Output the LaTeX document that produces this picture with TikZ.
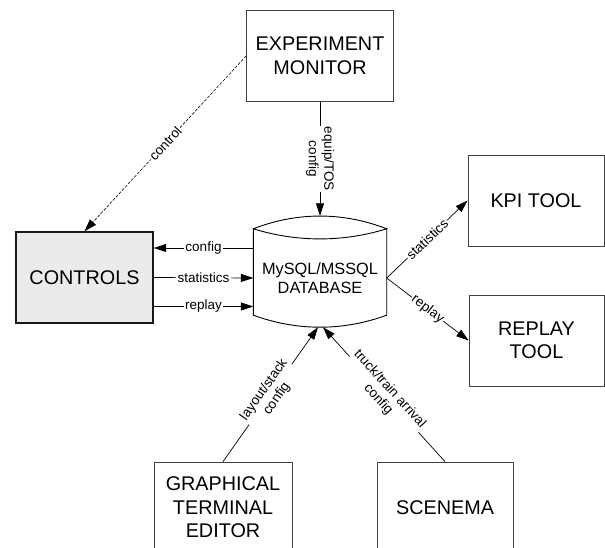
\documentclass[tikz,border=0pt]{standalone}
\usepackage{fontspec}
\setmainfont{Liberation Sans}
\usetikzlibrary{arrows.meta,
                calc,
                positioning}

\begin{document}
\begin{tikzpicture}[
        x=1pt, y=-1pt,
        box/.style={rectangle, minimum width=136pt, minimum height=91pt, text centered, align=center, draw=black!75, line width=0.8pt, font=\fontsize{19.8}{23.5}\selectfont},
        controlbox/.style={box, minimum width=137pt, draw=black!90, line width=1.4pt, fill=black!8},
        dbbody/.style={rectangle, minimum width=133pt, minimum height=98pt, text centered, align=center, font=\fontsize{16.3}{19}\selectfont},
        dbline/.style={draw=black, line width=0.9pt},
        link/.style={draw=black, line width=0.7pt, -{Triangle[length=12.5pt, width=8pt]}},
        tag/.style={fill=white, inner sep=1.2pt, align=center, font=\fontsize{13.5}{15.5}\selectfont}
        ]

        \useasboundingbox (0,0) rectangle (605,548);

        \node (monitor) [box, minimum width=147pt] at (320,56)    {EXPERIMENT\\MONITOR};
        \node (ctrl)    [controlbox]               at (84.5,277.5) {CONTROLS};
        \node (db)      [dbbody]                   at (320,278)   {MySQL/MSSQL\\DATABASE};
        \node (kpi)     [box]                      at (536,200.5) {KPI TOOL};
        \node (replay)  [box, minimum width=135pt] at (536.5,340.5) {REPLAY\\TOOL};
        \node (gte)     [box, minimum width=138pt] at (223,507.5) {GRAPHICAL\\TERMINAL\\EDITOR};
        \node (scenema) [box]                      at (445,507.5) {SCENEMA};

        % database drum
        \draw [dbline] (db.north west) .. controls +(44,-17) and +(-44,-17) .. (db.north east)
                       .. controls +(-44,13.5) and +(44,13.5) .. (db.north west)
                       -- ([yshift=12pt]db.south west)
                       .. controls +(44,16) and +(-44,16) .. ([yshift=12pt]db.south east)
                       -- (db.north east);
        \coordinate (dbtop) at ([yshift=13pt]db.north);

        \draw [link] (monitor.south) -- node[tag, rotate=-90] {equip/TOS\\config} (dbtop);
        \draw [link, line width=0.6pt, dash pattern=on 3pt off 1.5pt] (monitor.west) -- node[tag, sloped] {control} (ctrl.north);

        \draw [link] ([yshift=30pt]db.west) -- node[tag] {config} ([yshift=30pt]db.west -| ctrl.east);
        \draw [link] (ctrl.east) -- node[tag] {statistics} (db.west);
        \draw [link] ([yshift=-29pt]ctrl.east) -- node[tag] {replay} ([yshift=-29pt]ctrl.east -| db.west);

        \draw [link] (db.east) -- node[tag, sloped] {statistics} (kpi.west);
        \draw [link] (db.east) -- node[tag, sloped] {replay} (replay.west);

        \draw [link] (gte.north) -- node[tag, sloped] {layout/stack\\config} ([xshift=-2pt]db.south);
        \draw [link] (scenema.north) -- node[tag, sloped] {truck/train arrival\\config} ([xshift=3pt]db.south);

    \end{tikzpicture}
\end{document}
